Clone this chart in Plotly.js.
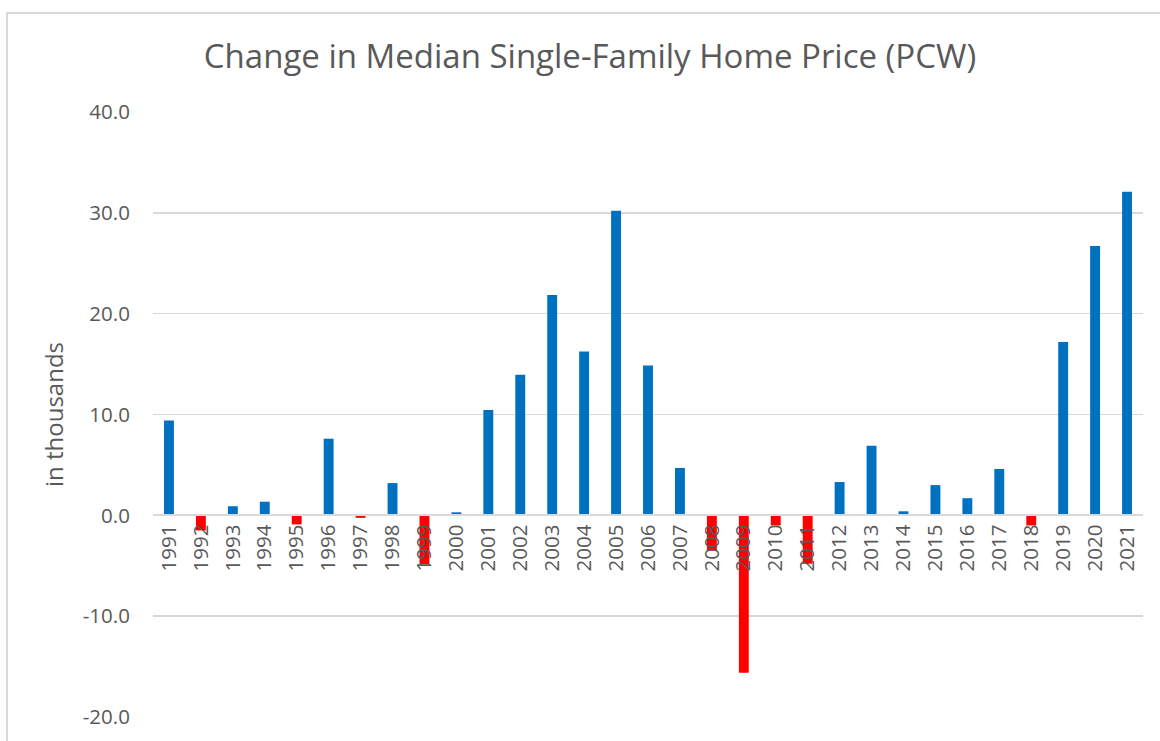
<!DOCTYPE html>
<html>
<head>
<meta charset="utf-8">
<script src="https://cdn.plot.ly/plotly-3.0.1.min.js"></script>
<style>
  html, body { margin: 0; padding: 0; background: #ffffff; overflow: hidden; }
  #frame { position: absolute; left: 6px; top: 12px; width: 1200px; height: 800px; border: 2px solid #d9d9d9; }
  #chart { position: absolute; left: 0; top: 0; width: 1160px; height: 741px; }
</style>
</head>
<body>
<div id="frame"></div>
<div id="chart"></div>
<script>
const years = ["1991","1992","1993","1994","1995","1996","1997","1998","1999","2000",
               "2001","2002","2003","2004","2005","2006","2007","2008","2009","2010",
               "2011","2012","2013","2014","2015","2016","2017","2018","2019","2020","2021"];
const changes = [9.4, -1.5, 0.9, 1.35, -0.9, 7.6, -0.25, 3.2, -4.85, 0.3,
                 10.45, 13.95, 21.85, 16.25, 30.2, 14.85, 4.7, -3.5, -15.6, -1.0,
                 -4.8, 3.3, 6.9, 0.4, 3.0, 1.7, 4.6, -1.0, 17.2, 26.7, 32.1];
const yRange = [-20, 40];
const yTicks = [-20, -10, 0, 10, 20, 30, 40];
const yTickText = yTicks.map(v => v.toFixed(1));
const titleText = "Change in Median Single-Family Home Price (PCW)";
const yTitleText = "in thousands";

const POS = "#0070C0", NEG = "#FF0000";
const colors = changes.map(v => v < 0 ? NEG : POS);
const textColor = "#595959";
const font = "'Open Sans', 'Liberation Sans', sans-serif";

const trace = {
  type: "bar",
  x: years,
  y: changes,
  marker: { color: colors },
  hoverinfo: "x+y"
};

const layout = {
  width: 1160, height: 741,
  margin: { l: 153, r: 17, t: 112, b: 24 },
  paper_bgcolor: "rgba(0,0,0,0)",
  plot_bgcolor: "rgba(0,0,0,0)",
  showlegend: false,
  bargap: 0.69,
  title: {
    text: titleText,
    x: 590 / 1160, xref: "container", xanchor: "center",
    y: 60, yref: "container", yanchor: "middle",
    font: { family: font, size: 33, color: textColor }
  },
  xaxis: {
    type: "category",
    anchor: "free",
    position: (0 - yRange[0]) / (yRange[1] - yRange[0]),
    showline: true, linecolor: "#d9d9d9", linewidth: 2,
    showgrid: false, zeroline: false,
    ticks: "", tickangle: -90,
    tickfont: { family: font, size: 20.5, color: textColor },
    layer: "above traces"
  },
  yaxis: {
    range: yRange,
    tickvals: yTicks,
    ticktext: yTickText,
    showgrid: true, gridcolor: "#d9d9d9", gridwidth: 1.5,
    zeroline: false, showline: false,
    ticks: "outside", ticklen: 18, tickcolor: "rgba(0,0,0,0)",
    tickfont: { family: font, size: 20.5, color: textColor },
    title: { text: yTitleText, standoff: 12, font: { family: font, size: 24, color: textColor } }
  }
};

Plotly.newPlot("chart", [trace], layout, { displayModeBar: false, staticPlot: true });
</script>
</body>
</html>
